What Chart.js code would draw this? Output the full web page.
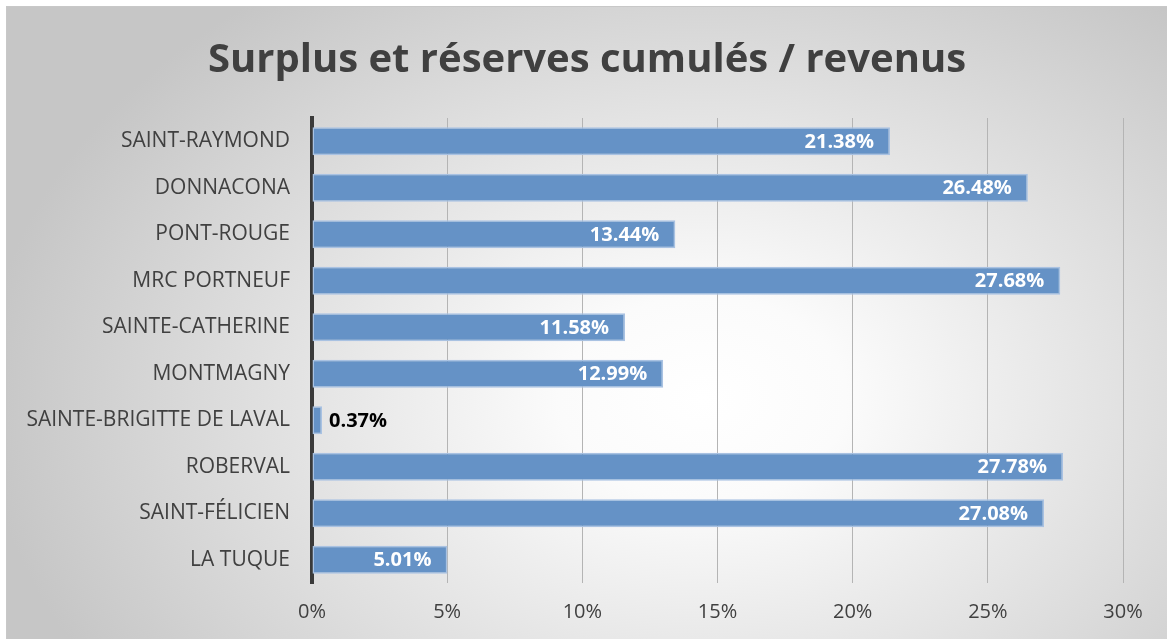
<!DOCTYPE html>
<html>
<head>
<meta charset="utf-8">
<script src="https://cdn.jsdelivr.net/npm/chart.js@4"></script>
<style>
  html, body { margin:0; padding:0; background:#ffffff; }
  #wrap { position:absolute; left:6px; top:6px; width:1160px; height:632px; border-top:1px solid #c8c8c8; border-left:1px solid #c8c8c8; }
  canvas { display:block; }
</style>
</head>
<body>
<div id="wrap"><canvas id="c" width="1160" height="632"></canvas></div>
<script>
const categories = ["SAINT-RAYMOND","DONNACONA","PONT-ROUGE","MRC PORTNEUF","SAINTE-CATHERINE","MONTMAGNY","SAINTE-BRIGITTE DE LAVAL","ROBERVAL","SAINT-FÉLICIEN","LA TUQUE"];
const values = [21.38, 26.48, 13.44, 27.68, 11.58, 12.99, 0.37, 27.78, 27.08, 5.01];
const xTicks = [0, 5, 10, 15, 20, 25, 30];
const titleText = "Surplus et réserves cumulés / revenus";

const FONT = "'Open Sans', 'Liberation Sans', sans-serif";

const bgPlugin = {
  id: 'bg',
  beforeDraw(chart) {
    const ctx = chart.ctx, w = chart.width, h = chart.height;
    ctx.save();
    const cx = w * 0.6, cy = h * 0.62;
    const sy = h / w * 1.3;
    ctx.translate(cx, cy);
    ctx.scale(1, sy);
    const r = w * 0.62;
    const g = ctx.createRadialGradient(0, 0, 0, 0, 0, r);
    g.addColorStop(0, '#ffffff');
    g.addColorStop(0.2, '#fbfbfb');
    g.addColorStop(1, '#c6c6c6');
    ctx.fillStyle = g;
    ctx.fillRect(-cx, -cy / sy, w * 2, h * 4);
    ctx.restore();
  }
};

const labelPlugin = {
  id: 'barLabels',
  afterDatasetsDraw(chart) {
    const ctx = chart.ctx;
    const meta = chart.getDatasetMeta(0);
    ctx.save();
    ctx.font = "bold 20px " + FONT;
    ctx.textBaseline = 'middle';
    meta.data.forEach((bar, i) => {
      const v = values[i];
      const txt = v.toFixed(2) + '%';
      const tw = ctx.measureText(txt).width;
      const barW = bar.x - bar.base;
      if (barW > tw + 20) {
        ctx.fillStyle = '#ffffff';
        ctx.textAlign = 'right';
        ctx.fillText(txt, bar.x - 16, bar.y + 1);
      } else {
        ctx.fillStyle = '#000000';
        ctx.textAlign = 'left';
        ctx.fillText(txt, bar.x + 7, bar.y + 1);
      }
    });
    ctx.restore();
  }
};

new Chart(document.getElementById('c'), {
  type: 'bar',
  data: {
    labels: categories,
    datasets: [{
      data: values,
      backgroundColor: '#6592c6',
      borderColor: '#a9c2e2',
      borderWidth: 1.5,
      borderSkipped: false,
      barPercentage: 0.6,
      categoryPercentage: 1.0
    }]
  },
  options: {
    indexAxis: 'y',
    responsive: false,
    animation: false,
    layout: { padding: { left: 0, right: 0, top: 0, bottom: 0 } },
    plugins: {
      legend: { display: false },
      tooltip: { enabled: false },
      title: {
        display: true,
        text: titleText,
        color: '#404040',
        font: { family: FONT, size: 40, weight: 'bold', lineHeight: 1.2 },
        padding: { top: 30, bottom: 33 }
      }
    },
    scales: {
      x: {
        min: 0, max: 30,
        afterBuildTicks(scale) { scale.ticks = xTicks.map(v => ({ value: v })); },
        afterFit(scale) { scale.height = 56; },
        ticks: {
          color: '#404040',
          font: { family: FONT, size: 20 },
          padding: 17,
          callback: v => v + '%'
        },
        grid: { color: '#b4b4b4', lineWidth: 1, drawTicks: false },
        border: { display: false }
      },
      y: {
        afterFit(scale) { scale.width = 305; },
        ticks: {
          color: '#404040',
          font: { family: FONT, size: 21 },
          padding: 22
        },
        grid: { display: false, drawTicks: false },
        border: { display: true, color: '#3a3a3a', width: 4 }
      },
      yR: {
        type: 'category',
        position: 'right',
        labels: categories,
        afterFit(scale) { scale.width = 44; },
        ticks: { display: false },
        grid: { display: false, drawTicks: false },
        border: { display: false }
      }
    }
  },
  plugins: [bgPlugin, labelPlugin]
});
</script>
</body>
</html>
